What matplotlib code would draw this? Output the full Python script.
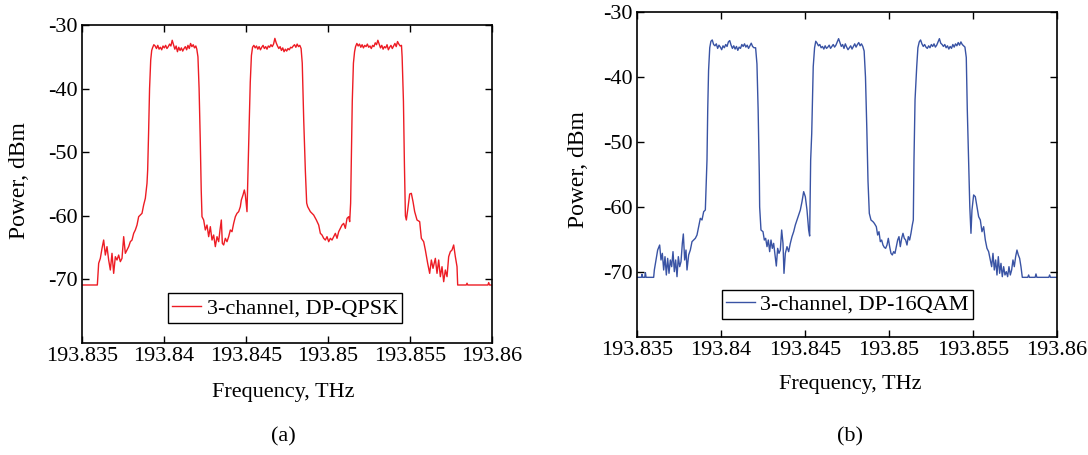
import numpy as np
import matplotlib
matplotlib.use("Agg")
import matplotlib.pyplot as plt

plt.rcParams['font.family'] = ['Liberation Serif', 'DejaVu Serif']

# ---------------- data: (a) 3-channel DP-QPSK (red) ----------------
red_pre_f = [193.835, 193.835935, 193.836016, 193.836118, 193.836220, 193.836321, 193.836423, 193.836524,
             193.836626, 193.836728, 193.836829, 193.836931, 193.837033, 193.837134, 193.837236, 193.837337,
             193.837439, 193.837541, 193.837642, 193.837744, 193.837846, 193.837947, 193.838049, 193.838151,
             193.838252, 193.838354, 193.838455, 193.838557, 193.838659, 193.838760, 193.838862, 193.838963,
             193.839004, 193.83906, 193.83912, 193.83919, 193.83925]
red_pre_p = [-70.88, -70.88, -67.47, -66.69, -65.12, -63.81, -66.17, -64.85, -66.95, -68.52, -65.90, -69.05,
             -66.43, -66.95, -66.17, -67.21, -66.69, -63.28, -65.90, -65.38, -64.85, -64.07, -63.81, -62.76,
             -62.23, -61.45, -60.14, -59.88, -59.61, -58.30, -57.25, -54.90, -52.80, -47.0, -40.0, -35.5, -34.0]

red_ch1_range = (193.8393, 193.84194)
red_ch1_p = [-33.6, -33.1, -33.3, -33.7, -33.2, -33.8, -33.5, -33.9, -33.3, -33.6, -33.2, -33.7, -33.4, -33.0,
             -33.3, -32.4, -33.1, -33.8, -33.3, -34.2, -33.5, -34.0, -33.6, -34.1, -33.7, -33.4, -33.9, -33.2,
             -33.7, -32.9, -33.4, -33.1, -33.6, -33.3]

red_t1_f = [193.84200, 193.84207, 193.84214, 193.84221, 193.84227, 193.842317, 193.842419, 193.842520,
            193.842622, 193.842724, 193.842825, 193.842927, 193.843028, 193.843130, 193.843232, 193.843333,
            193.843415, 193.843496, 193.843557, 193.843638, 193.843740, 193.843841, 193.843943, 193.844045,
            193.844146, 193.844248, 193.844350, 193.844451, 193.844553, 193.844654, 193.844715, 193.844817,
            193.844898, 193.844960, 193.845061, 193.845122, 193.84520, 193.84526, 193.84533]
red_t1_p = [-33.8, -35.0, -40.0, -48.0, -56.0, -60.14, -60.66, -62.23, -61.45, -63.28, -61.71, -63.81, -63.02,
            -64.85, -63.28, -64.07, -62.23, -60.66, -64.33, -64.59, -63.54, -64.07, -63.28, -62.23, -62.50, -61.19,
            -60.14, -59.61, -59.35, -58.57, -57.52, -56.73, -55.94, -56.73, -59.35, -52.80, -45.0, -39.0, -34.8]

red_ch2_range = (193.8454, 193.84836)
red_ch2_p = [-33.5, -33.2, -33.6, -33.3, -33.8, -33.4, -33.9, -33.5, -33.2, -33.7, -33.4, -33.8, -33.3, -33.5,
             -33.1, -33.4, -33.0, -32.1, -32.8, -33.3, -33.7, -33.4, -34.0, -33.6, -34.2, -33.8, -34.1, -33.7,
             -33.9, -33.5, -33.6, -33.3, -33.1, -33.5, -33.0, -33.4, -33.2, -33.7]

red_t2_f = [193.84843, 193.84852, 193.84862, 193.84870, 193.848761, 193.848924, 193.849127, 193.849290,
            193.849432, 193.849534, 193.849635, 193.849737, 193.849838, 193.849940, 193.850042, 193.850143,
            193.850245, 193.850347, 193.850448, 193.850550, 193.850651, 193.850753, 193.850855, 193.850956,
            193.851058, 193.851160, 193.851261, 193.851322, 193.85138, 193.85143, 193.85148, 193.85155, 193.85162]
red_t2_p = [-36.0, -45.0, -53.0, -58.0, -58.57, -59.35, -59.88, -60.66, -61.45, -62.76, -63.02, -63.54, -63.81,
            -63.28, -64.07, -63.54, -63.81, -63.28, -62.76, -63.54, -62.50, -61.97, -61.45, -61.19, -61.97, -60.40,
            -60.14, -60.92, -58.0, -50.0, -42.0, -36.0, -34.2]

red_ch3_range = (193.85168, 193.85448)
red_ch3_p = [-33.4, -32.9, -33.3, -33.0, -33.5, -33.1, -33.6, -33.2, -33.4, -33.0, -33.5, -33.3, -33.7, -33.2,
             -33.4, -32.8, -33.1, -32.4, -33.0, -33.6, -33.2, -33.8, -33.4, -33.6, -33.1, -33.9, -33.5, -33.2,
             -33.7, -33.3, -32.9, -33.4, -32.6, -33.0, -33.3, -33.2]

red_tail_f = [193.85452, 193.85460, 193.85466, 193.85472, 193.854777, 193.854859, 193.854981, 193.855082,
              193.855184, 193.855285, 193.855428, 193.855590, 193.855692, 193.855834, 193.855936, 193.856078,
              193.856200, 193.856302, 193.856403, 193.856546, 193.856647, 193.856749, 193.856851, 193.856952,
              193.857054, 193.857155, 193.857257, 193.857358, 193.857460, 193.857562, 193.857663, 193.857765,
              193.857867, 193.857907, 193.85843, 193.858477, 193.85852, 193.85975, 193.859798, 193.85985, 193.86]
red_tail_p = [-35.0, -42.0, -52.0, -60.0, -60.66, -59.09, -56.57, -56.47, -57.78, -59.35, -60.66, -60.92, -63.54,
              -64.07, -65.38, -67.48, -69.05, -66.95, -68.26, -66.69, -69.05, -66.95, -69.57, -68.00, -70.36, -68.52,
              -69.57, -66.43, -65.64, -65.38, -64.59, -66.43, -68.00, -70.88, -70.88, -70.60, -70.88, -70.88, -70.50,
              -70.88, -70.88]

# ---------------- data: (b) 3-channel DP-16QAM (blue) ----------------
blue_pre_f = [193.835, 193.83526, 193.83530, 193.83534, 193.83546, 193.83550, 193.83554, 193.835992, 193.836032,
              193.836230, 193.836349, 193.836428, 193.836508, 193.836587, 193.836667, 193.836746, 193.836825,
              193.836905, 193.836984, 193.837063, 193.837143, 193.837222, 193.837301, 193.837381, 193.837460,
              193.837540, 193.837619, 193.837698, 193.837758, 193.837837, 193.837916, 193.837976, 193.838075,
              193.838174, 193.838274, 193.838373, 193.838472, 193.838571, 193.838670, 193.838770, 193.838869,
              193.838968, 193.839067, 193.839127, 193.839166, 193.83921, 193.83926, 193.83933]
blue_pre_p = [-70.82, -70.82, -70.36, -70.82, -70.82, -70.10, -70.82, -70.82, -69.69, -66.62, -65.85, -68.15,
              -67.13, -69.69, -67.64, -70.46, -67.90, -70.20, -68.15, -69.18, -66.87, -69.95, -68.15, -70.72,
              -67.64, -69.18, -68.41, -65.59, -64.15, -68.15, -66.62, -69.69, -67.38, -66.62, -65.33, -65.08,
              -64.82, -64.31, -63.03, -61.74, -62.00, -60.72, -60.46, -55.85, -52.77, -45.0, -39.0, -35.5]

blue_ch1_range = (193.8394, 193.84196)
blue_ch1_p = [-34.5, -34.3, -35.0, -35.2, -34.9, -35.6, -35.1, -35.4, -35.8, -35.2, -35.5, -35.0, -35.3, -34.6,
              -34.4, -35.1, -35.6, -35.2, -35.7, -35.3, -35.9, -35.4, -35.6, -35.0, -35.3, -34.9, -35.4, -35.1,
              -35.6, -35.2, -34.8, -35.3, -35.5]

blue_t1_f = [193.84206, 193.84214, 193.84221, 193.84228, 193.842301, 193.842380, 193.842500, 193.842579,
             193.842658, 193.842738, 193.842817, 193.842896, 193.842976, 193.843055, 193.843134, 193.843214,
             193.843293, 193.843372, 193.843452, 193.843531, 193.843611, 193.843690, 193.843749, 193.843829,
             193.843928, 193.844027, 193.844126, 193.844226, 193.844325, 193.844424, 193.844523, 193.844622,
             193.844722, 193.844821, 193.844920, 193.845019, 193.845118, 193.845218, 193.845277, 193.845337,
             193.84540, 193.84549, 193.84557]
blue_t1_p = [-35.5, -38.0, -45.0, -55.0, -60.0, -63.54, -63.80, -65.08, -64.82, -66.10, -65.08, -66.87, -65.08,
             -66.36, -65.59, -67.38, -69.08, -66.36, -67.13, -66.62, -63.54, -65.59, -70.21, -67.13, -66.10,
             -66.87, -65.59, -64.56, -63.80, -62.77, -62.00, -61.23, -60.46, -59.18, -57.64, -58.41, -60.46,
             -63.54, -64.46, -52.77, -48.7, -38.4, -35.5]

blue_ch2_range = (193.84564, 193.84844)
blue_ch2_p = [-34.5, -34.8, -35.2, -35.0, -35.5, -35.3, -35.7, -35.2, -35.6, -35.4, -35.1, -35.6, -35.3, -35.0,
              -35.4, -35.1, -34.6, -34.1, -34.7, -35.3, -35.0, -35.6, -34.9, -35.4, -35.8, -35.5, -35.2, -35.7,
              -35.3, -34.9, -35.4, -35.0, -34.7, -35.2, -34.9, -35.3]

blue_t2_f = [193.84852, 193.84860, 193.84868, 193.84875, 193.848828, 193.848927, 193.849047, 193.849126,
             193.849245, 193.849324, 193.849404, 193.849483, 193.849562, 193.849642, 193.849721, 193.849800,
             193.849880, 193.849959, 193.850039, 193.850118, 193.850197, 193.850277, 193.850356, 193.850435,
             193.850515, 193.850594, 193.850673, 193.850753, 193.850832, 193.850911, 193.850991, 193.851070,
             193.851150, 193.851229, 193.851308, 193.851388, 193.851447, 193.851487, 193.85155, 193.85165, 193.85172]
blue_t2_p = [-36.0, -40.0, -48.0, -56.0, -60.98, -62.00, -62.26, -62.51, -63.03, -64.31, -63.80, -65.33, -65.08,
             -65.85, -66.21, -66.36, -65.85, -64.82, -66.10, -67.13, -67.38, -66.87, -67.13, -66.10, -65.08,
             -64.56, -66.10, -64.82, -64.05, -64.82, -65.08, -65.85, -64.56, -65.08, -64.05, -62.77, -62.00,
             -52.77, -43.5, -38.4, -35.5]

blue_ch3_range = (193.8518, 193.85452)
blue_ch3_p = [-34.6, -34.3, -34.9, -35.3, -35.0, -35.4, -35.6, -35.2, -35.5, -35.0, -35.3, -34.9, -35.4, -35.1,
              -34.6, -34.1, -34.8, -35.0, -35.3, -35.0, -35.5, -35.2, -35.7, -35.3, -35.6, -35.0, -35.4, -34.9,
              -35.2, -34.7, -35.1, -34.6, -35.0, -35.2, -35.4]

blue_tail_f = [193.85460, 193.85466, 193.854741, 193.85481, 193.854879, 193.854939, 193.855038, 193.855137,
               193.855237, 193.855336, 193.855435, 193.855534, 193.855633, 193.855733, 193.855832, 193.855931,
               193.856031, 193.856110, 193.856189, 193.856268, 193.856348, 193.856427, 193.856506, 193.856586,
               193.856665, 193.856744, 193.856824, 193.856903, 193.856982, 193.857062, 193.857141, 193.857221,
               193.857300, 193.857379, 193.857458, 193.857538, 193.857617, 193.857697, 193.857776, 193.857855,
               193.857935, 193.85826, 193.858312, 193.85836, 193.85870, 193.858748, 193.85880, 193.85951,
               193.859562, 193.85961, 193.86]
blue_tail_p = [-37.0, -45.0, -52.77, -60.0, -64.05, -60.46, -58.15, -58.41, -59.95, -61.49, -62.00, -63.80,
               -63.03, -65.08, -66.36, -66.87, -68.15, -69.18, -67.13, -69.69, -68.15, -70.46, -67.64, -70.20,
               -68.67, -70.72, -69.18, -70.46, -69.95, -70.72, -69.18, -70.46, -69.69, -68.15, -69.18, -67.64,
               -66.62, -67.38, -67.90, -69.18, -70.82, -70.82, -70.46, -70.82, -70.82, -70.30, -70.82, -70.82,
               -70.46, -70.82, -70.82]

xticks = [193.835, 193.84, 193.845, 193.85, 193.855, 193.86]
xtick_labels = ["193.835", "193.84", "193.845", "193.85", "193.855", "193.86"]
yticks = [-30, -40, -50, -60, -70]
ytick_labels = ["-30", "-40", "-50", "-60", "-70"]


def build(segments):
    fs, ps = [], []
    for seg in segments:
        if len(seg) == 2 and isinstance(seg[0], tuple):
            rng, vals = seg
            f = np.linspace(rng[0], rng[1], len(vals))
            fs.append(f)
            ps.append(np.asarray(vals))
        else:
            f, p = seg
            assert len(f) == len(p), (len(f), len(p))
            fs.append(np.asarray(f))
            ps.append(np.asarray(p))
    return np.concatenate(fs), np.concatenate(ps)


red_f, red_p = build([(red_pre_f, red_pre_p), (red_ch1_range, red_ch1_p), (red_t1_f, red_t1_p),
                      (red_ch2_range, red_ch2_p), (red_t2_f, red_t2_p), (red_ch3_range, red_ch3_p),
                      (red_tail_f, red_tail_p)])
blue_f, blue_p = build([(blue_pre_f, blue_pre_p), (blue_ch1_range, blue_ch1_p), (blue_t1_f, blue_t1_p),
                        (blue_ch2_range, blue_ch2_p), (blue_t2_f, blue_t2_p), (blue_ch3_range, blue_ch3_p),
                        (blue_tail_f, blue_tail_p)])

W, H = 1088, 455
fig = plt.figure(figsize=(W / 100, H / 100), dpi=100)
ax1 = fig.add_axes([82 / W, 1 - 343 / H, 410 / W, 318 / H])
ax2 = fig.add_axes([637 / W, 1 - 337 / H, 420 / W, 325 / H])

TICK_FS = 16
LABEL_FS = 16

for ax, f, p, color, lab, legxy in [
        (ax1, red_f, red_p, '#ed1c24', '3-channel, DP-QPSK', (0.495, 0.11)),
        (ax2, blue_f, blue_p, '#3953a4', '3-channel, DP-16QAM', (0.501, 0.10))]:
    ax.plot(f, p, color=color, lw=1.0, label=lab)
    ax.set_xlim(193.835, 193.86)
    ax.set_ylim(-80, -30)
    ax.set_xticks(xticks)
    ax.set_xticklabels(xtick_labels)
    ax.set_yticks(yticks)
    ax.set_yticklabels(ytick_labels)
    ax.tick_params(direction='in', length=5, width=1.0, top=True, right=True,
                   labelsize=TICK_FS, pad=3)
    for s in ax.spines.values():
        s.set_linewidth(1.2)
    leg = ax.legend(loc='center', bbox_to_anchor=legxy, fontsize=LABEL_FS, frameon=True,
                    fancybox=False, edgecolor='black', framealpha=1, handlelength=1.3,
                    handletextpad=0.25, borderpad=0.2, borderaxespad=0)
    leg.get_frame().set_linewidth(1.0)

fig.text(20 / W, 1 - 181 / H, 'Power, dBm', rotation=90, ha='center', va='center', fontsize=17)
fig.text(578 / W, 1 - 170 / H, 'Power, dBm', rotation=90, ha='center', va='center', fontsize=17)
fig.text(283 / W, 1 - 393 / H, 'Frequency, THz', ha='center', va='center', fontsize=LABEL_FS)
fig.text(850 / W, 1 - 385 / H, 'Frequency, THz', ha='center', va='center', fontsize=LABEL_FS)
fig.text(283 / W, 1 - 437 / H, '(a)', ha='center', va='center', fontsize=LABEL_FS)
fig.text(850 / W, 1 - 437 / H, '(b)', ha='center', va='center', fontsize=LABEL_FS)

fig.savefig('out.png', dpi=100)
